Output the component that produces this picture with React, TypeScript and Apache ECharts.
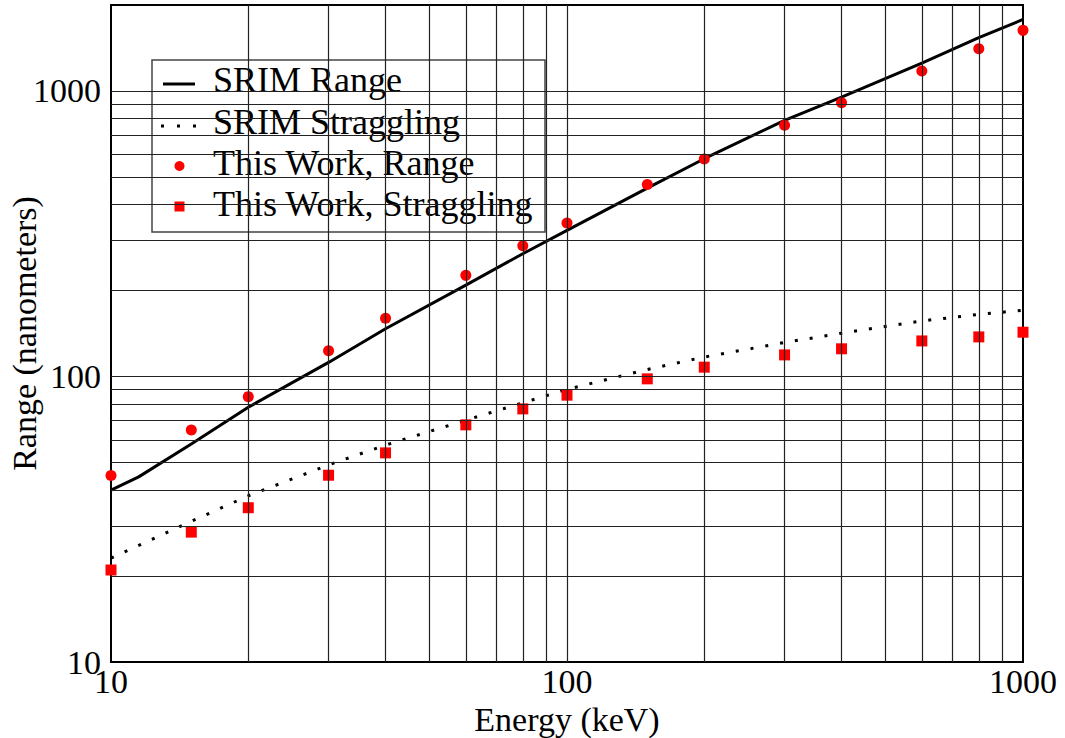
import React, { useEffect, useRef } from "react";
import * as echarts from "echarts";

// Measured data ("This Work")
const energy = [10, 15, 20, 30, 40, 60, 80, 100, 150, 200, 300, 400, 600, 800, 1000];
const workRange = [45, 65, 85, 123, 160, 226, 287, 345, 470, 578, 758, 910, 1174, 1406, 1630];
const workStraggling = [21.0, 28.5, 34.7, 45.1, 54.0, 67.7, 77.0, 86.0, 98.1, 107.8, 119, 125, 133.2, 137.6, 142.9];

// SRIM curves
const srimRangeEnergy = [10, 11.5, 15, 20, 30, 40, 60, 80, 100, 150, 200, 300, 400, 600, 800, 1000];
const srimRange = [40, 44.5, 58, 78, 112, 147, 209, 269, 325, 457, 579, 789, 952, 1252, 1537, 1780];
const srimStragEnergy = [10, 15, 20, 30, 40, 60, 80, 100, 150, 200, 300, 400, 600, 800, 1000];
const srimStraggling = [23.1, 31.1, 38.2, 49, 57.5, 70.3, 80.9, 90.1, 105.8, 117, 131.5, 141.8, 156.5, 165, 170.6];

// Grid line positions
const gridX = [20, 30, 40, 50, 60, 70, 80, 90, 100, 200, 300, 400, 500, 600, 700, 800, 900];
const gridY = [20, 30, 40, 50, 60, 70, 80, 90, 100, 200, 300, 400, 500, 600, 700, 800, 900, 1000];

const seriesNames = ["SRIM Range", "SRIM Straggling", "This Work, Range", "This Work, Straggling"];

const FONT = "'Liberation Serif', 'Times New Roman', serif";

export default function App() {
  const ref = useRef<HTMLDivElement>(null);
  useEffect(() => {
    const chart = echarts.init(ref.current!, null, { renderer: "svg" });
    const pairs = (xs: number[], ys: number[]) => xs.map((x, i) => [x, ys[i]]);
    const fmt = (v: number) => String(Math.round(v));
    const legendRows = [80, 122, 163, 204];
    chart.setOption({
      animation: false,
      backgroundColor: "#fff",
      grid: {
        left: 111,
        right: 42,
        top: 5,
        bottom: 76,
        containLabel: false,
        outerBoundsMode: "none",
        show: true,
        borderColor: "#000",
        borderWidth: 2,
        backgroundColor: "transparent",
      },
      xAxis: {
        type: "log",
        logBase: 10,
        min: 10,
        max: 1000,
        axisLine: { show: false },
        axisTick: { show: false },
        splitLine: { show: false },
        axisLabel: { fontSize: 34, fontFamily: FONT, color: "#000", margin: 2, formatter: fmt },
        name: "Energy (keV)",
        nameLocation: "middle",
        nameGap: 40,
        nameMoveOverlap: false,
        nameTextStyle: { fontSize: 34, fontFamily: FONT, color: "#000" },
      },
      yAxis: {
        type: "log",
        logBase: 10,
        min: 10,
        max: 2000,
        axisLine: { show: false },
        axisTick: { show: false },
        splitLine: { show: false },
        axisLabel: {
          fontSize: 34,
          fontFamily: FONT,
          color: "#000",
          margin: 10,
          formatter: fmt,
          showMaxLabel: false,
        },
        name: "Range (nanometers)",
        nameLocation: "middle",
        nameGap: 70,
        nameMoveOverlap: false,
        nameTextStyle: { fontSize: 34, fontFamily: FONT, color: "#000" },
      },
      series: [
        {
          type: "line",
          name: "grid",
          data: [],
          silent: true,
          z: 1,
          markLine: {
            silent: true,
            symbol: ["none", "none"],
            label: { show: false },
            emphasis: { disabled: true },
            lineStyle: { color: "#222", width: 1.2, type: "solid" },
            data: [
              ...gridX.map((v) => ({ xAxis: v })),
              ...gridY.map((v) => ({ yAxis: v })),
            ],
          },
        },
        {
          type: "line",
          name: seriesNames[0],
          data: pairs(srimRangeEnergy, srimRange),
          showSymbol: false,
          lineStyle: { color: "#000", width: 3 },
          z: 3,
        },
        {
          type: "line",
          name: seriesNames[1],
          data: pairs(srimStragEnergy, srimStraggling),
          showSymbol: false,
          lineStyle: { color: "#000", width: 3, type: [3, 12] },
          z: 3,
        },
        {
          type: "scatter",
          name: seriesNames[2],
          data: pairs(energy, workRange),
          symbol: "circle",
          symbolSize: 11,
          itemStyle: { color: "#ff0000", opacity: 1 },
          z: 4,
        },
        {
          type: "scatter",
          name: seriesNames[3],
          data: pairs(energy, workStraggling),
          symbol: "rect",
          symbolSize: 11,
          itemStyle: { color: "#ff0000", opacity: 1 },
          z: 4,
        },
      ],
      graphic: [
        {
          type: "group",
          z: 100,
          children: [
            {
              type: "rect",
              shape: { x: 152, y: 60, width: 393, height: 172 },
              style: { fill: "#fff", stroke: "#444", lineWidth: 1.5 },
            },
            {
              type: "line",
              shape: { x1: 163, y1: 84, x2: 195, y2: 84 },
              style: { stroke: "#000", lineWidth: 3 },
            },
            {
              type: "line",
              shape: { x1: 161, y1: 126, x2: 198, y2: 126 },
              style: { stroke: "#000", lineWidth: 3, lineDash: [3, 13] },
            },
            {
              type: "circle",
              shape: { cx: 179.5, cy: 166, r: 5 },
              style: { fill: "#ff0000" },
            },
            {
              type: "rect",
              shape: { x: 174.5, y: 201.5, width: 10, height: 10 },
              style: { fill: "#ff0000" },
            },
            ...seriesNames.map((n, i) => ({
              type: "text",
              x: 213,
              y: legendRows[i],
              style: {
                text: n,
                fontSize: 36,
                fontFamily: FONT,
                fill: "#000",
                align: "left",
                verticalAlign: "middle",
              },
            })),
          ],
        },
      ],
    });
    return () => chart.dispose();
  }, []);
  return (
    <div
      ref={ref}
      style={{ position: "fixed", left: 0, top: 0, width: 1065, height: 738, background: "#fff" }}
    />
  );
}
